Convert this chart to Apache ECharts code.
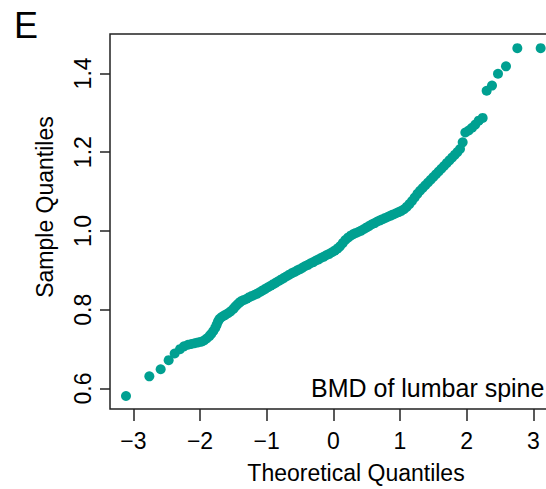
<!DOCTYPE html>
<html>
<head>
<meta charset="utf-8">
<script src="https://cdn.jsdelivr.net/npm/echarts@6/dist/echarts.min.js"></script>
<style>html,body{margin:0;padding:0;background:#fff}#c{width:546px;height:489px}</style>
</head>
<body>
<div id="c"></div>
<script>
// Theoretical quantiles (x) and sample quantiles (y)
var theoretical = [-3.11,-2.76,-2.59,-2.47,-2.38,-2.30,-2.24,-2.18,-2.13,-2.08,-2.03,-1.98,-1.94,-1.90,-1.86,-1.83,-1.80,-1.77,-1.75,-1.73,-1.71,-1.68,-1.65,-1.62,-1.58,-1.54,-1.50,-1.47,-1.44,-1.41,-1.38,-1.34,-1.30,-1.26,-1.22,-1.18,-1.14,-1.10,-1.06,-1.02,-0.98,-0.94,-0.90,-0.86,-0.82,-0.78,-0.74,-0.70,-0.66,-0.62,-0.58,-0.54,-0.50,-0.46,-0.42,-0.38,-0.34,-0.30,-0.26,-0.22,-0.18,-0.14,-0.10,-0.06,-0.02,0.02,0.06,0.10,0.14,0.18,0.22,0.26,0.30,0.34,0.38,0.42,0.46,0.50,0.54,0.58,0.62,0.66,0.70,0.74,0.78,0.82,0.86,0.90,0.94,0.98,1.02,1.06,1.10,1.14,1.18,1.22,1.26,1.30,1.34,1.38,1.42,1.46,1.50,1.54,1.58,1.62,1.66,1.70,1.74,1.78,1.82,1.86,1.90,1.94,1.98,2.03,2.08,2.13,2.18,2.24,2.30,2.38,2.47,2.59,2.76,3.11];
var sample = [0.581,0.631,0.649,0.672,0.689,0.700,0.707,0.711,0.713,0.715,0.717,0.719,0.722,0.727,0.733,0.739,0.746,0.754,0.762,0.770,0.776,0.781,0.784,0.787,0.791,0.796,0.802,0.808,0.813,0.818,0.822,0.825,0.828,0.832,0.835,0.838,0.841,0.845,0.849,0.853,0.857,0.861,0.865,0.869,0.873,0.877,0.881,0.885,0.889,0.893,0.896,0.900,0.903,0.907,0.911,0.914,0.918,0.921,0.925,0.928,0.932,0.935,0.939,0.942,0.946,0.950,0.955,0.961,0.969,0.977,0.983,0.988,0.992,0.995,0.998,1.001,1.005,1.009,1.013,1.017,1.020,1.024,1.027,1.030,1.033,1.036,1.039,1.042,1.045,1.048,1.051,1.055,1.061,1.068,1.076,1.085,1.094,1.102,1.109,1.116,1.123,1.130,1.137,1.144,1.151,1.158,1.165,1.172,1.179,1.186,1.193,1.200,1.208,1.225,1.250,1.255,1.262,1.270,1.280,1.287,1.356,1.369,1.399,1.418,1.464,1.464];
var xTicks = [-3,-2,-1,0,1,2,3];
var xTickLabels = ['\u22123','\u22122','\u22121','0','1','2','3'];
var yTicks = [0.6,0.8,1.0,1.2,1.4];
var yTickLabels = ['0.6','0.8','1.0','1.2','1.4'];
var panelLetter = 'E';
var xTitle = 'Theoretical Quantiles';
var yTitle = 'Sample Quantiles';
var legendText = 'BMD of lumbar spine';

var pts = theoretical.map(function(x,i){return [x, sample[i]];});
var FONT = '"Liberation Sans", Arial, sans-serif';
var chart = echarts.init(document.getElementById('c'), null, {renderer:'svg'});
chart.setOption({
  animation:false,
  backgroundColor:'#fff',
  grid:{left:110, top:34, width:446, height:375, show:true, borderColor:'#222', borderWidth:1.5, backgroundColor:'transparent', containLabel:false, outerBoundsMode:'none'},
  xAxis:{type:'value', min:-3.35, max:3.34,
    axisLine:{show:false, onZero:false}, splitLine:{show:false},
    axisTick:{show:true, inside:false, length:12, customValues:xTicks, lineStyle:{color:'#222', width:1.5}},
    axisLabel:{show:true, customValues:xTicks, margin:32, verticalAlign:'middle', fontSize:23, color:'#000', fontFamily:FONT,
      formatter:function(v){var i=xTicks.indexOf(Math.round(v)); return i>=0?xTickLabels[i]:'';}}
  },
  yAxis:{type:'value', min:0.548, max:1.5,
    axisLine:{show:false, onZero:false}, splitLine:{show:false},
    axisTick:{show:true, inside:false, length:10, customValues:yTicks, lineStyle:{color:'#222', width:1.5}},
    axisLabel:{show:true, customValues:yTicks, rotate:90, margin:27, verticalAlign:'middle', align:'center', fontSize:23, color:'#000', fontFamily:FONT,
      formatter:function(v){var i=yTicks.findIndex(function(t){return Math.abs(t-v)<1e-6;}); return i>=0?yTickLabels[i]:'';}}
  },
  series:[{type:'scatter', data:pts, symbol:'circle', symbolSize:10, itemStyle:{color:'#00A091', opacity:1}, clip:true}],
  graphic:[
    {type:'text', left:14, top:7, style:{text:panelLetter, font:'36px '+FONT, fill:'#000'}},
    {type:'text', x:356, y:473, style:{text:xTitle, font:'23px '+FONT, fill:'#000', align:'center', verticalAlign:'middle'}},
    {type:'text', x:45, y:207, rotation:Math.PI/2, style:{text:yTitle, font:'23px '+FONT, fill:'#000', align:'center', verticalAlign:'middle'}},
    {type:'text', x:311, y:388, style:{text:legendText, font:'25px '+FONT, fill:'#000', align:'left', verticalAlign:'middle'}}
  ]
});
</script>
</body>
</html>
